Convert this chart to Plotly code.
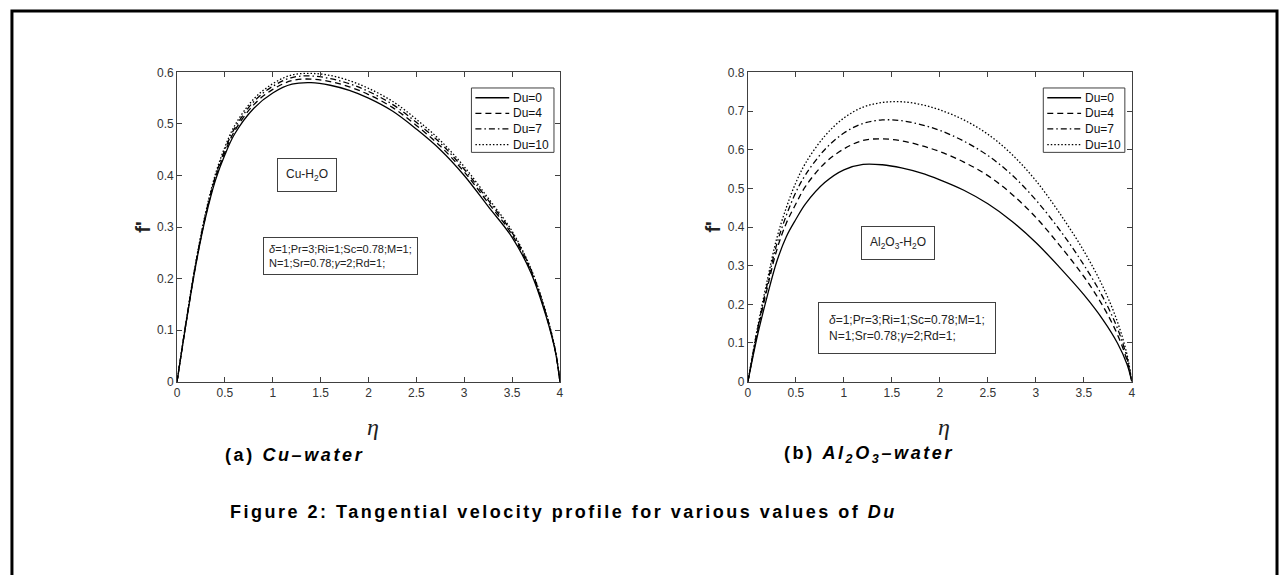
import plotly.graph_objects as go

eta = [0, 0.1, 0.2, 0.3, 0.4, 0.5, 0.6, 0.8, 1.0, 1.2, 1.4, 1.6, 1.8, 2.0,
       2.25, 2.5, 2.75, 3.0, 3.25, 3.5, 3.7, 3.85, 3.95, 4.0]

du_labels = ["Du=0", "Du=4", "Du=7", "Du=10"]
dash_styles = ["solid", "6px,4px", "6px,3px,1.5px,3px", "1.5px,2px"]

# (a) Cu-water
cu_du0 = [0, 0.12, 0.23, 0.32, 0.39, 0.44, 0.48, 0.53, 0.56, 0.577, 0.58, 0.575, 0.565, 0.55,
          0.525, 0.49, 0.45, 0.40, 0.34, 0.28, 0.21, 0.13, 0.06, 0]
cu_du4 = [0, 0.121, 0.232, 0.323, 0.394, 0.445, 0.486, 0.537, 0.567, 0.584, 0.587, 0.582, 0.572, 0.557,
          0.532, 0.497, 0.457, 0.407, 0.347, 0.285, 0.213, 0.133, 0.061, 0]
cu_du7 = [0, 0.122, 0.234, 0.326, 0.398, 0.45, 0.491, 0.543, 0.573, 0.59, 0.593, 0.588, 0.578, 0.563,
          0.538, 0.503, 0.463, 0.412, 0.352, 0.289, 0.216, 0.135, 0.062, 0]
cu_du10 = [0, 0.123, 0.236, 0.329, 0.402, 0.455, 0.496, 0.548, 0.578, 0.595, 0.598, 0.594, 0.584, 0.569,
           0.544, 0.509, 0.468, 0.417, 0.356, 0.292, 0.218, 0.137, 0.063, 0]

# (b) Al2O3-water
al_du0 = [0, 0.12, 0.22, 0.31, 0.375, 0.42, 0.46, 0.515, 0.548, 0.562, 0.561, 0.553, 0.54, 0.522,
          0.495, 0.46, 0.415, 0.36, 0.295, 0.225, 0.16, 0.10, 0.045, 0]
al_du4 = [0, 0.13, 0.24, 0.34, 0.41, 0.46, 0.505, 0.565, 0.602, 0.624, 0.628, 0.623, 0.611, 0.595,
          0.568, 0.533, 0.485, 0.425, 0.352, 0.272, 0.195, 0.122, 0.055, 0]
al_du7 = [0, 0.135, 0.25, 0.355, 0.43, 0.49, 0.535, 0.60, 0.643, 0.668, 0.677, 0.675, 0.665, 0.65,
          0.622, 0.585, 0.535, 0.47, 0.392, 0.302, 0.218, 0.138, 0.062, 0]
al_du10 = [0, 0.14, 0.26, 0.37, 0.45, 0.515, 0.565, 0.635, 0.682, 0.71, 0.722, 0.724, 0.717, 0.703,
           0.677, 0.64, 0.588, 0.52, 0.435, 0.338, 0.245, 0.155, 0.07, 0]

x_ticks = [0, 0.5, 1, 1.5, 2, 2.5, 3, 3.5, 4]
x_ticklabels = ["0", "0.5", "1", "1.5", "2", "2.5", "3", "3.5", "4"]
y1_ticks = [0, 0.1, 0.2, 0.3, 0.4, 0.5, 0.6]
y2_ticks = [0, 0.1, 0.2, 0.3, 0.4, 0.5, 0.6, 0.7, 0.8]

W, H = 1283, 575
def px(x):
    return x / W
def py(y):
    return 1 - y / H

fig = go.Figure()

for vals, name, dash in zip([cu_du0, cu_du4, cu_du7, cu_du10], du_labels, dash_styles):
    fig.add_trace(go.Scatter(x=eta, y=vals, mode="lines", name=name, showlegend=False,
                             line=dict(color="black", width=1.3, dash=dash, shape="spline"),
                             xaxis="x", yaxis="y"))
for vals, name, dash in zip([al_du0, al_du4, al_du7, al_du10], du_labels, dash_styles):
    fig.add_trace(go.Scatter(x=eta, y=vals, mode="lines", name=name, showlegend=False,
                             line=dict(color="black", width=1.3, dash=dash, shape="spline"),
                             xaxis="x2", yaxis="y2"))

axis_common = dict(showgrid=False, zeroline=False, showline=True, mirror="ticks",
                   linecolor="#404040", linewidth=1, ticks="inside", ticklen=5,
                   tickcolor="#404040",
                   tickfont=dict(family="Liberation Sans, Arial", size=12, color="#333333"))

ydom = [py(384), py(67)]
fig.update_layout(
    width=W, height=H,
    margin=dict(l=0, r=0, t=0, b=0),
    paper_bgcolor="white", plot_bgcolor="white",
    font=dict(family="Liberation Sans, Arial", color="black"),
    xaxis=dict(domain=[px(175), px(560)], range=[0, 4], tickvals=x_ticks,
               ticktext=x_ticklabels, anchor="y", **axis_common),
    yaxis=dict(domain=ydom, range=[0, 0.6], tickvals=y1_ticks, anchor="x", **axis_common),
    xaxis2=dict(domain=[px(749), px(1135)], range=[0, 4], tickvals=x_ticks,
                ticktext=x_ticklabels, anchor="y2", **axis_common),
    yaxis2=dict(domain=ydom, range=[0, 0.8], tickvals=y2_ticks, anchor="x2", **axis_common),
    showlegend=False,
)

params_text = ("<i>δ</i>=1;Pr=3;Ri=1;Sc=0.78;M=1;<br>"
               "N=1;Sr=0.78;<i>γ</i>=2;Rd=1;")

def ann(x, y, text, size, xanchor="center", yanchor="middle", family=None, color="#222", **kw):
    f = dict(size=size, color=color)
    if family:
        f["family"] = family
    return dict(x=px(x), y=py(y), text=text, showarrow=False, xref="paper", yref="paper",
                xanchor=xanchor, yanchor=yanchor, font=f, **kw)

box = dict(bordercolor="#404040", borderwidth=1, bgcolor="white")
annotations = [
    ann(306, 172, "Cu-H<sub>2</sub>O", 12, borderpad=8, **box),
    ann(339, 255, params_text, 11, align="left", borderpad=5, **box),
    ann(900, 242, "Al<sub>2</sub>O<sub>3</sub>-H<sub>2</sub>O", 12, borderpad=8, **box),
    ann(909, 329, params_text, 12, align="left", borderpad=10, **box),
    ann(141, 226, "<b>f'</b>", 20, textangle=-90),
    ann(714, 226, "<b>f'</b>", 20, textangle=-90),
    ann(372, 430, "<i>η</i>", 24, family="Liberation Serif, Times New Roman"),
    ann(946, 430, "<i>η</i>", 24, family="Liberation Serif, Times New Roman"),
    ann(221, 459, "<span style='letter-spacing:2.6px'><b>(a) <i>Cu–water</i></b></span>", 18,
        xanchor="left", color="black"),
    ann(783, 459, "<span style='letter-spacing:2.6px'><b>(b) <i>Al<sub>2</sub>O<sub>3</sub>–water</i></b></span>", 18,
        xanchor="left", color="black"),
    ann(564, 518, "<span style='letter-spacing:2.5px'><b>Figure 2: Tangential velocity profile for various values of <i>Du</i></b></span>",
        18, color="black"),
]

shapes = []
# custom legends (box, line samples, labels)
legend_rows_y = [93, 109, 125, 141]
for (bx0, bx1) in [(471, 554), (1046, 1128)]:
    shapes.append(dict(type="rect", xref="paper", yref="paper",
                       x0=px(bx0), x1=px(bx1), y0=py(149), y1=py(83),
                       line=dict(color="#404040", width=1), fillcolor="white", layer="above"))
    for ry, lab, dash in zip(legend_rows_y, du_labels, dash_styles):
        shapes.append(dict(type="line", xref="paper", yref="paper",
                           x0=px(bx0 + 4), x1=px(bx0 + 38), y0=py(ry), y1=py(ry),
                           line=dict(color="black", width=1.3, dash=dash), layer="above"))
        annotations.append(ann(bx0 + 40, ry, lab, 12, xanchor="left", color="#111"))

# page frame
shapes.append(dict(type="rect", xref="paper", yref="paper",
                   x0=px(9), x1=px(1281), y0=py(590), y1=py(4),
                   line=dict(color="black", width=3)))

fig.update_layout(annotations=annotations, shapes=shapes)

fig.write_html("out.html")
